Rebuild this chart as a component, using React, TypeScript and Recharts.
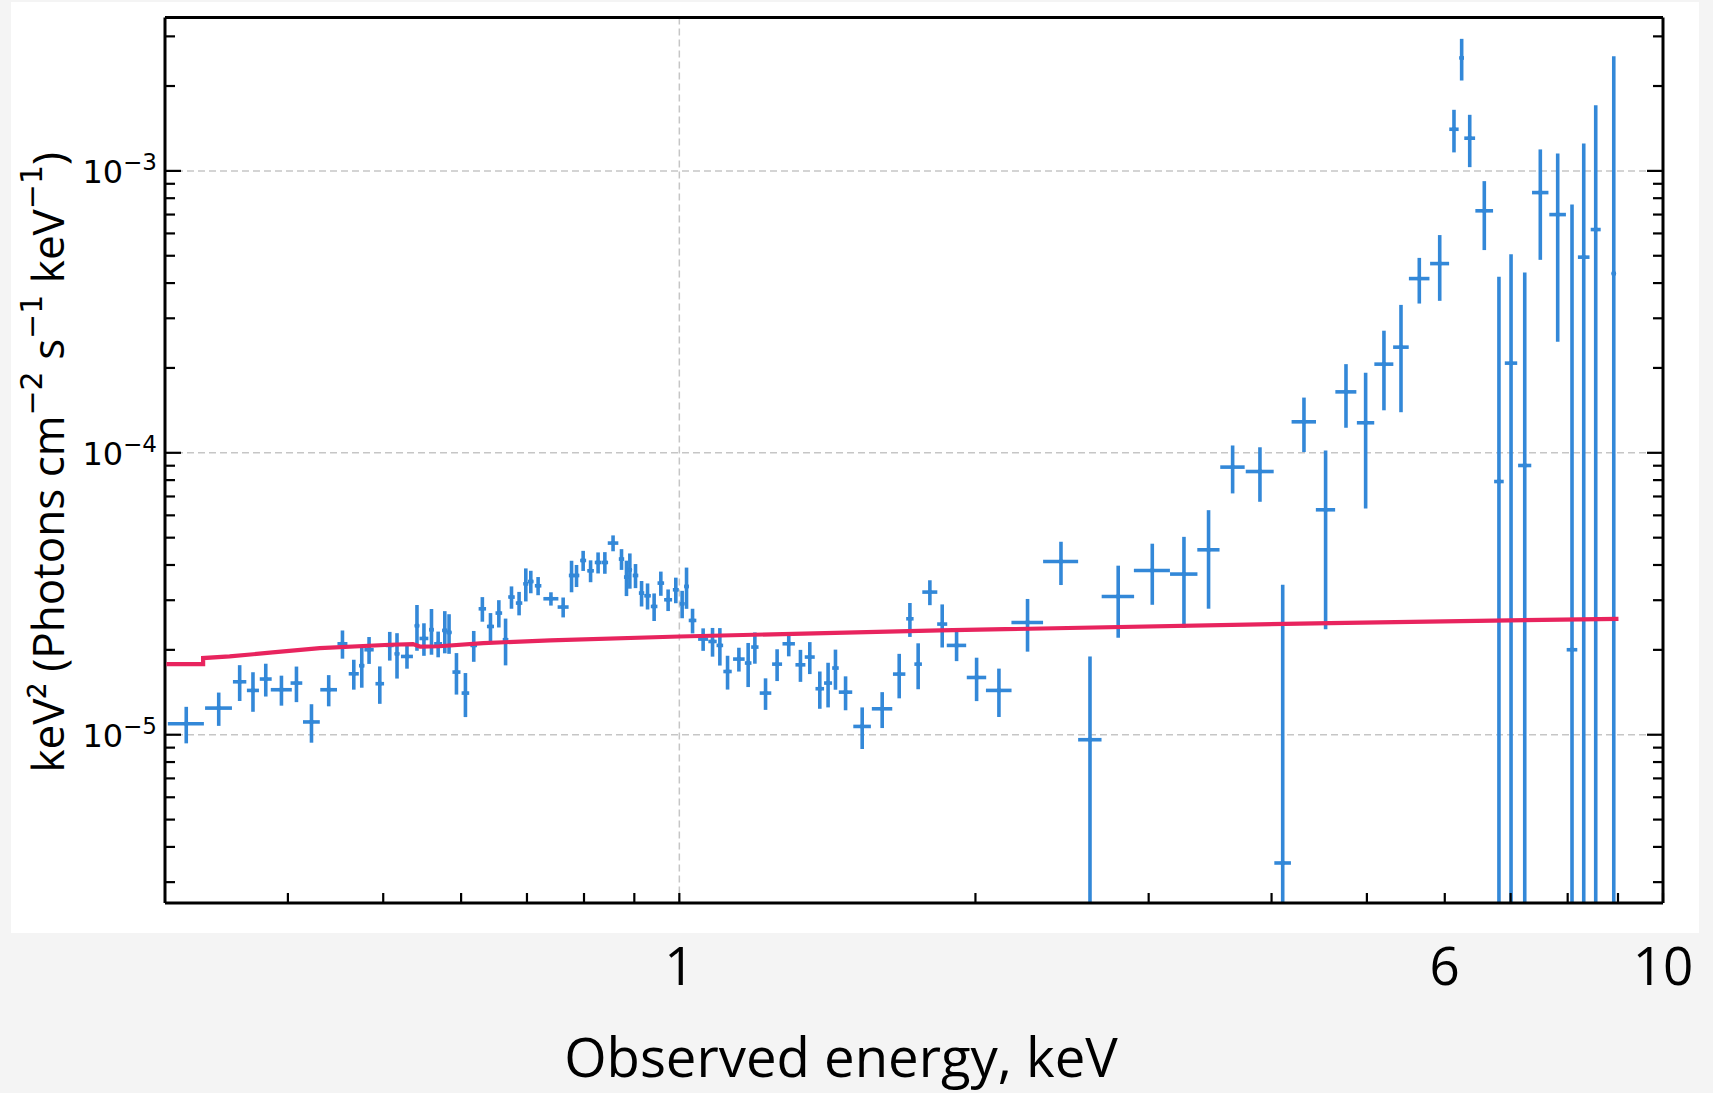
import { ComposedChart, Scatter, ErrorBar, XAxis, YAxis, CartesianGrid, Label } from 'recharts';

// observed spectrum: bin centre (keV), half width (keV), keV^2 flux and its 1-sigma error
const energy = [
  0.3153, 0.3402, 0.3573, 0.3686, 0.3798, 0.394, 0.4081, 0.4227, 0.4401, 0.4545,
  0.4667, 0.4755, 0.4837, 0.496, 0.5077, 0.5164, 0.5286, 0.5411, 0.55, 0.5598,
  0.5686, 0.5775, 0.5833, 0.5935, 0.6061, 0.618, 0.6306, 0.6427, 0.6554, 0.6658,
  0.6751, 0.6872, 0.6981, 0.7063, 0.7185, 0.7404, 0.7619, 0.777, 0.7861, 0.7984,
  0.8124, 0.8268, 0.84, 0.8563, 0.8734, 0.8836, 0.8906, 0.9025, 0.9154, 0.9283,
  0.9427, 0.9576, 0.9741, 0.9918, 1.0066, 1.017, 1.0314, 1.0573, 1.0808, 1.0995,
  1.1195, 1.1496, 1.1748, 1.1934, 1.2236, 1.2572, 1.2919, 1.3278, 1.3571, 1.3893,
  1.4165, 1.4412, 1.4757, 1.5342, 1.6077, 1.6731, 1.7155, 1.749, 1.7976, 1.8503,
  1.9136, 2.0054, 2.113, 2.2594, 2.4433, 2.615, 2.7935, 3.0255, 3.2584, 3.4515,
  3.6516, 3.8927, 4.1058, 4.3152, 4.5394, 4.7612, 4.9854, 5.2037, 5.4155, 5.6526,
  5.9293, 6.1306, 6.2419, 6.3608, 6.5816, 6.8112, 7.0069, 7.2351, 7.5037, 7.8154,
  8.0817, 8.3066, 8.543, 8.9116,
];

const energyErr = [
  0.0133, 0.0107, 0.0056, 0.0052, 0.0053, 0.0097, 0.0056, 0.0083, 0.0086, 0.0053,
  0.0055, 0.003, 0.0053, 0.005, 0.0047, 0.003, 0.0074, 0.003, 0.0057, 0.003,
  0.0053, 0.0036, 0.0036, 0.0056, 0.0054, 0.0048, 0.0055, 0.0053, 0.0051, 0.0044,
  0.0052, 0.0052, 0.0041, 0.0046, 0.0055, 0.013, 0.0098, 0.0049, 0.0052, 0.0056,
  0.0063, 0.0064, 0.0064, 0.0106, 0.0055, 0.0052, 0.0045, 0.0059, 0.0058, 0.0072,
  0.0073, 0.0074, 0.0091, 0.0069, 0.0059, 0.0055, 0.0092, 0.0124, 0.0106, 0.0085,
  0.011, 0.0156, 0.0091, 0.0103, 0.0166, 0.0147, 0.0188, 0.0155, 0.0159, 0.014,
  0.0133, 0.0111, 0.0232, 0.0316, 0.0384, 0.0243, 0.0149, 0.0155, 0.0316, 0.0218,
  0.0435, 0.0456, 0.0633, 0.0836, 0.1001, 0.0716, 0.106, 0.1275, 0.1045, 0.0898,
  0.1043, 0.1273, 0.0798, 0.1233, 0.1024, 0.117, 0.1013, 0.1157, 0.0989, 0.136,
  0.1319, 0.0675, 0.0336, 0.0806, 0.1364, 0.0765, 0.1017, 0.1116, 0.1441, 0.1519,
  0.1003, 0.1128, 0.0999, 0.0459,
];

const flux = [
  1.094e-5, 1.243e-5, 1.541e-5, 1.436e-5, 1.576e-5, 1.444e-5, 1.525e-5, 1.11e-5, 1.444e-5, 2.102e-5,
  1.645e-5, 1.757e-5, 2.002e-5, 1.517e-5, 2.074e-5, 1.937e-5, 1.895e-5, 2.435e-5, 2.195e-5, 2.357e-5,
  2.102e-5, 2.344e-5, 2.306e-5, 1.668e-5, 1.405e-5, 2.074e-5, 2.797e-5, 2.421e-5, 2.701e-5, 2.172e-5,
  3.078e-5, 2.931e-5, 3.43e-5, 3.495e-5, 3.375e-5, 3.036e-5, 2.837e-5, 3.671e-5, 3.671e-5, 4.15e-5,
  3.815e-5, 4.083e-5, 4.083e-5, 4.784e-5, 4.198e-5, 3.623e-5, 3.846e-5, 3.671e-5, 3.18e-5, 3.111e-5,
  2.851e-5, 3.45e-5, 3.011e-5, 3.267e-5, 2.914e-5, 3.356e-5, 2.543e-5, 2.184e-5, 2.142e-5, 2.074e-5,
  1.676e-5, 1.855e-5, 1.796e-5, 2.046e-5, 1.405e-5, 1.78e-5, 2.102e-5, 1.77e-5, 1.886e-5, 1.456e-5,
  1.525e-5, 1.724e-5, 1.416e-5, 1.07e-5, 1.236e-5, 1.641e-5, 2.578e-5, 1.78e-5, 3.206e-5, 2.469e-5,
  2.074e-5, 1.596e-5, 1.436e-5, 2.501e-5, 4.116e-5, 9.6e-6, 3.093e-5, 3.825e-5, 3.714e-5, 4.529e-5,
  8.897e-5, 8.583e-5, 3.508e-6, 1.288e-4, 6.279e-5, 1.645e-4, 1.278e-4, 2.063e-4, 2.37e-4, 4.149e-4,
  4.69e-4, 1.405e-3, 2.516e-3, 1.306e-3, 7.217e-4, 7.91e-5, 2.08e-4, 9.016e-5, 8.376e-4, 6.998e-4,
  2.002e-5, 4.943e-4, 6.193e-4, 4.324e-4,
];

const fluxErr = [
  1.62e-6, 1.68e-6, 2.24e-6, 2.3e-6, 2.1e-6, 1.76e-6, 2.2e-6, 1.73e-6, 1.83e-6, 2.41e-6,
  2.0e-6, 2.89e-6, 2.19e-6, 2.3e-6, 2.42e-6, 3.55e-6, 1.8e-6, 4.5e-6, 2.9e-6, 4.35e-6,
  2.2e-6, 4.0e-6, 3.7e-6, 2.8e-6, 2.5e-6, 2.6e-6, 2.8e-6, 2.8e-6, 3.0e-6, 4.1e-6,
  2.8e-6, 2.8e-6, 4.6e-6, 3.2e-6, 2.5e-6, 1.65e-6, 2.3e-6, 4.7e-6, 3.3e-6, 3.4e-6,
  3.4e-6, 3.5e-6, 3.6e-6, 3.1e-6, 3.55e-6, 5.2e-6, 5.5e-6, 3.6e-6, 3.3e-6, 3.3e-6,
  3.2e-6, 3.4e-6, 2.65e-6, 3.4e-6, 3.25e-6, 5.6e-6, 2.55e-6, 2.0e-6, 2.5e-6, 3.15e-6,
  2.3e-6, 1.8e-6, 3.2e-6, 2.6e-6, 1.8e-6, 2.3e-6, 2.05e-6, 2.3e-6, 2.45e-6, 2.2e-6,
  2.75e-6, 2.8e-6, 1.95e-6, 1.8e-6, 1.8e-6, 2.95e-6, 3.55e-6, 3.3e-6, 3.25e-6, 4.3e-6,
  2.5e-6, 2.8e-6, 2.8e-6, 5.3e-6, 7.2e-6, 9.35e-6, 8.85e-6, 9.35e-6, 1.32e-5, 1.73e-5,
  1.72e-5, 1.88e-5, 3.05e-5, 2.82e-5, 3.91e-5, 4.18e-5, 6.44e-5, 6.48e-5, 9.77e-5, 7.65e-5,
  1.23e-4, 2.42e-4, 4.24e-4, 2.75e-4, 1.98e-4, 3.42e-4, 2.98e-4, 3.46e-4, 3.54e-4, 4.52e-4,
  7.4e-4, 7.56e-4, 1.09e-3, 2.12e-3,
];

// fitted model (step at the lowest bin edge)
const modelEnergy = [0.301, 0.328, 0.328, 0.349, 0.386, 0.431, 0.508, 0.536, 0.545, 0.57, 0.632, 0.739, 1.0, 1.84, 4.585, 9.01];
const modelFlux = [1.78e-5, 1.78e-5, 1.87e-5, 1.895e-5, 1.958e-5, 2.03e-5, 2.085e-5, 2.097e-5, 2.055e-5, 2.06e-5, 2.114e-5, 2.16e-5, 2.231e-5, 2.344e-5, 2.489e-5, 2.578e-5];

const xTicks = [0.4, 0.5, 0.6, 0.7, 0.8, 0.9, 1, 2, 3, 4, 5, 6, 7, 8, 9, 10];
const xTickLabels = [1, 6, 10];
const yTicks = [
  3e-6, 4e-6, 5e-6, 6e-6, 7e-6, 8e-6, 9e-6,
  1e-5, 2e-5, 3e-5, 4e-5, 5e-5, 6e-5, 7e-5, 8e-5, 9e-5,
  1e-4, 2e-4, 3e-4, 4e-4, 5e-4, 6e-4, 7e-4, 8e-4, 9e-4,
  1e-3, 2e-3, 3e-3,
];
const yGrid = [1e-5, 1e-4, 1e-3];
const xGrid = [1];

const X_DOMAIN = [0.3, 10];
const Y_DOMAIN = [2.53e-6, 3.5e-3];

const BLUE = '#3388d8';
const RED = '#e8245e';
const SANS = "'Open Sans', 'Noto Sans', sans-serif";
const MATH = "'DejaVu Sans', sans-serif";
const FRAME = { stroke: '#000', strokeWidth: 3 };

// error bars that reach below the axis are cut at the axis floor
const spectrum = energy.map((e, i) => ({
  energy: e,
  flux: flux[i],
  xErr: energyErr[i],
  yErr: [Math.min(fluxErr[i], flux[i] - Y_DOMAIN[0]), fluxErr[i]],
}));

const model = modelEnergy.map((e, i) => ({ energy: e, flux: modelFlux[i] }));

const isDecade = (v: number) => {
  const l = Math.log10(v);
  return Math.abs(l - Math.round(l)) < 1e-6;
};

const pick = (key: string) => (d: any) => (d && d[key] !== undefined ? d[key] : d?.payload?.[key]);

function BottomTick({ x, y, payload }: any) {
  const v = payload.value;
  return (
    <g>
      <line x1={x} x2={x} y1={y} y2={y - 10} stroke="#000" strokeWidth={2.2} />
      {xTickLabels.includes(v) && (
        <text x={x} y={y + 82} textAnchor="middle" fontFamily={SANS} fontSize={53} fill="#000">
          {v}
        </text>
      )}
    </g>
  );
}

function TopTick({ x, y }: any) {
  return <line x1={x} x2={x} y1={y} y2={y + 10} stroke="#000" strokeWidth={2.2} />;
}

function LeftTick({ x, y, payload }: any) {
  const v = payload.value;
  const major = isDecade(v);
  const exp = Math.round(Math.log10(v));
  return (
    <g>
      <line x1={x} x2={x + (major ? 16 : 10)} y1={y} y2={y} stroke="#000" strokeWidth={2.2} />
      {major && (
        <text x={x - 8} y={y + 12} textAnchor="end" fontFamily={MATH} fontSize={32} fill="#000">
          10
          <tspan dy={-13} fontSize={23}>
            {'\u2212' + Math.abs(exp)}
          </tspan>
        </text>
      )}
    </g>
  );
}

function RightTick({ x, y, payload }: any) {
  const major = isDecade(payload.value);
  return <line x1={x} x2={x - (major ? 16 : 10)} y1={y} y2={y} stroke="#000" strokeWidth={2.2} />;
}

function XTitle({ viewBox }: any) {
  const cx = viewBox.x + viewBox.width / 2 - 73;
  return (
    <text x={cx} y={viewBox.y + 174} textAnchor="middle" fontFamily={SANS} fontSize={54.5} fill="#000">
      Observed energy, keV
    </text>
  );
}

function YTitle({ viewBox }: any) {
  const cx = viewBox.x + viewBox.width - 118;
  const cy = viewBox.y + viewBox.height / 2 + 2;
  return (
    <text
      x={cx}
      y={cy}
      transform={`rotate(-90 ${cx} ${cy})`}
      textAnchor="middle"
      dominantBaseline="central"
      fontFamily={SANS}
      fontSize={44}
      fill="#000"
    >
      keV² (Photons cm
      <tspan dy={-16} fontFamily={MATH} fontSize={30}>{'\u22122'}</tspan>
      <tspan dy={16}> s</tspan>
      <tspan dy={-16} fontFamily={MATH} fontSize={30}>{'\u22121'}</tspan>
      <tspan dy={16}> keV</tspan>
      <tspan dy={-16} fontFamily={MATH} fontSize={30}>{'\u22121'}</tspan>
      <tspan dy={16}>)</tspan>
    </text>
  );
}

function DataPoint({ cx, cy }: any) {
  return <circle cx={cx} cy={cy} r={2.4} fill={BLUE} />;
}

export default function App() {
  return (
    <div style={{ position: 'absolute', left: 0, top: 0, width: 1713, height: 1093, background: '#f4f4f4' }}>
      <div style={{ position: 'absolute', left: 11, top: 2, width: 1688, height: 931, background: '#ffffff' }} />
      <div style={{ position: 'absolute', left: 0, top: 0 }}>
        <ComposedChart width={1713} height={1093} margin={{ top: 16.5, right: 49, bottom: 189, left: 164 }}>
          <CartesianGrid
            horizontalValues={yGrid}
            verticalValues={xGrid}
            stroke="#c6c6c6"
            strokeWidth={1.5}
            strokeDasharray="7 4"
          />
          <XAxis
            dataKey="energy"
            type="number"
            scale="log"
            domain={X_DOMAIN}
            allowDataOverflow
            ticks={xTicks}
            interval={0}
            height={1}
            tickSize={0}
            tickMargin={0}
            tickLine={false}
            tick={<BottomTick />}
            axisLine={FRAME}
          >
            <Label content={<XTitle />} />
          </XAxis>
          <XAxis
            xAxisId="top"
            orientation="top"
            type="number"
            scale="log"
            domain={X_DOMAIN}
            allowDataOverflow
            ticks={xTicks}
            interval={0}
            height={1}
            tickSize={0}
            tickMargin={0}
            tickLine={false}
            tick={<TopTick />}
            axisLine={FRAME}
          />
          <YAxis
            dataKey="flux"
            type="number"
            scale="log"
            domain={Y_DOMAIN}
            allowDataOverflow
            ticks={yTicks}
            interval={0}
            width={1}
            tickSize={0}
            tickMargin={0}
            tickLine={false}
            tick={<LeftTick />}
            axisLine={FRAME}
          >
            <Label content={<YTitle />} />
          </YAxis>
          <YAxis
            yAxisId="right"
            orientation="right"
            type="number"
            scale="log"
            domain={Y_DOMAIN}
            allowDataOverflow
            ticks={yTicks}
            interval={0}
            width={1}
            tickSize={0}
            tickMargin={0}
            tickLine={false}
            tick={<RightTick />}
            axisLine={FRAME}
          />
          <Scatter data={spectrum} fill={BLUE} shape={<DataPoint />} isAnimationActive={false}>
            <ErrorBar dataKey={pick('xErr')} direction="x" width={0} stroke={BLUE} strokeWidth={3.6} />
            <ErrorBar dataKey={pick('yErr')} direction="y" width={0} stroke={BLUE} strokeWidth={3.6} />
          </Scatter>
          <Scatter
            data={model}
            fill={RED}
            line={{ stroke: RED, strokeWidth: 4.2 }}
            shape={() => <g />}
            isAnimationActive={false}
          />
        </ComposedChart>
      </div>
    </div>
  );
}
